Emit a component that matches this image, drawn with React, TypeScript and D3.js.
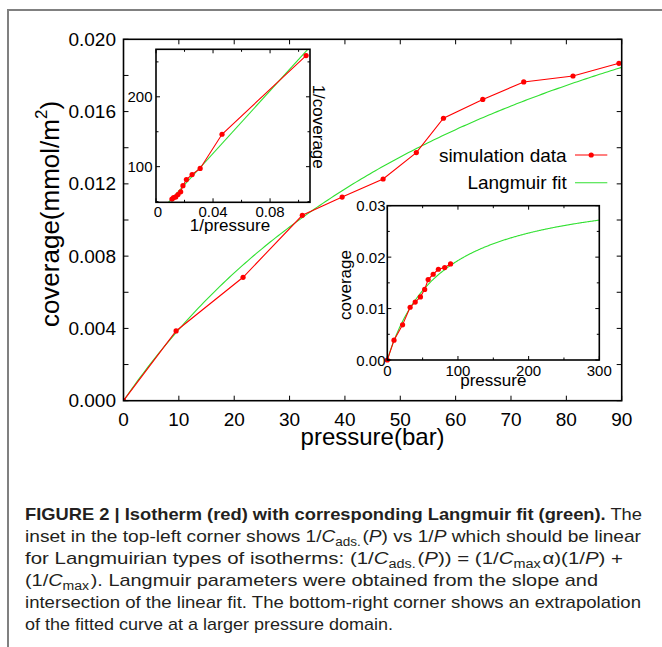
import React, { useEffect } from 'react';
import * as d3 from 'd3';

// simulation isotherm
const pressure = [0, 9.5, 21.6, 32.3, 39.5, 46.9, 52.9, 57.8, 64.9, 72.3, 81.2, 89.5];
const coverage = [0, 0.00386, 0.00683, 0.01026, 0.01127, 0.01227, 0.01373, 0.01563, 0.01667, 0.01764, 0.01797, 0.01867];

// Langmuir fit parameters (from slope / intercept of the 1/C vs 1/P line)
const langmuirCmax = 0.03413;
const langmuirAlpha = 0.01307;

const mainXTicks = [0, 10, 20, 30, 40, 50, 60, 70, 80, 90];
const mainYTicks = [0, 0.002, 0.004, 0.006, 0.008, 0.01, 0.012, 0.014, 0.016, 0.018, 0.02];
const mainYLabels = ['0.000', '0.004', '0.008', '0.012', '0.016', '0.020'];

const invXTicks = [0, 0.02, 0.04, 0.06, 0.08, 0.1];
const invXLabels = ['0', '0.04', '0.08'];
const invYTicks = [50, 100, 150, 200, 250];
const invYLabels = ['100', '200'];

const extXTicks = [0, 50, 100, 150, 200, 250, 300];
const extXLabels = ['0', '100', '200', '300'];
const extYTicks = [0, 0.005, 0.01, 0.015, 0.02, 0.025, 0.03];
const extYLabels = ['0.00', '0.01', '0.02', '0.03'];

const RED = '#ff0000';
const GREEN = '#30e030';
const FONT = '"Liberation Sans", Arial, Helvetica, sans-serif';

const langmuir = (p: number) => (langmuirCmax * langmuirAlpha * p) / (1 + langmuirAlpha * p);

type Box = { x: d3.ScaleLinear<number, number>; y: d3.ScaleLinear<number, number> };

function Frame({ x, y, xt, yt, major, minor, isMajorX, isMajorY }: Box & {
  xt: number[]; yt: number[]; major: number; minor: number;
  isMajorX: (v: number) => boolean; isMajorY: (v: number) => boolean;
}) {
  const [x0, x1] = x.range();
  const [y0, y1] = y.range();
  return (
    <g stroke="#000" strokeWidth={1}>
      {xt.map((v, i) => {
        const len = isMajorX(v) ? major : minor;
        return (
          <g key={'x' + i}>
            <line x1={x(v)} x2={x(v)} y1={y0} y2={y0 - len} />
            <line x1={x(v)} x2={x(v)} y1={y1} y2={y1 + len} />
          </g>
        );
      })}
      {yt.map((v, i) => {
        const len = isMajorY(v) ? major : minor;
        return (
          <g key={'y' + i}>
            <line x1={x0} x2={x0 + len} y1={y(v)} y2={y(v)} />
            <line x1={x1} x2={x1 - len} y1={y(v)} y2={y(v)} />
          </g>
        );
      })}
      <rect x={x0} y={y1} width={x1 - x0} height={y0 - y1} fill="none" strokeWidth={1.6} />
    </g>
  );
}

const near = (a: number, list: number[]) => list.some((b) => Math.abs(a - b) < 1e-9);

export default function App() {
  useEffect(() => {
    document.body.style.margin = '0';
  }, []);

  // main plot
  const x = d3.scaleLinear().domain([0, 90]).range([123.5, 621.7]);
  const y = d3.scaleLinear().domain([0, 0.02]).range([400.7, 39.3]);
  const pts = pressure.map((p, i) => [p, coverage[i]] as [number, number]);
  const line = d3.line<[number, number]>().x((d) => x(d[0])).y((d) => y(d[1]));
  const fitMain = d3.range(0, 90.01, 0.5).map((p) => [p, langmuir(p)] as [number, number]);

  // top-left inset: 1/C vs 1/P
  const ix = d3.scaleLinear().domain([0, 0.108]).range([156, 310]);
  const iy = d3.scaleLinear().domain([49, 268]).range([202.3, 49.3]);
  const invPts = pts.filter((d) => d[0] > 0).map((d) => [1 / d[0], 1 / d[1]] as [number, number]);
  const iline = d3.line<[number, number]>().x((d) => ix(d[0])).y((d) => iy(d[1]));
  const invFit = [0, 0.12].map((v) => [v, 1 / langmuirCmax + v / (langmuirCmax * langmuirAlpha)] as [number, number]);

  // bottom-right inset: extrapolation
  const ex = d3.scaleLinear().domain([0, 300]).range([387.3, 599.3]);
  const ey = d3.scaleLinear().domain([0, 0.03]).range([360, 205.7]);
  const eline = d3.line<[number, number]>().x((d) => ex(d[0])).y((d) => ey(d[1]));
  const fitExt = d3.range(0, 300.01, 1).map((p) => [p, langmuir(p)] as [number, number]);

  const sub = (t: string) => (
    <>
      <tspan fontSize={12} dy={4}>{t}</tspan>
      <tspan dy={-4}>{'\u200a'}</tspan>
    </>
  );
  const it = (t: string) => <tspan fontStyle="italic">{t}</tspan>;

  return (
    <svg width={662} height={647} style={{ position: 'absolute', left: 0, top: 0, background: '#fff' }} fontFamily={FONT}>
      <defs>
        <clipPath id="cm"><rect x={123.5} y={39.3} width={498.2} height={361.4} /></clipPath>
        <clipPath id="ci"><rect x={156} y={49.3} width={154} height={153} /></clipPath>
        <clipPath id="ce"><rect x={387.3} y={205.7} width={212} height={154.3} /></clipPath>
      </defs>
      <path d="M8,647V10H662" fill="none" stroke="#808080" strokeWidth={2} />

      {/* main plot */}
      <g clipPath="url(#cm)">
        <path d={line(fitMain) || ''} fill="none" stroke={GREEN} strokeWidth={1.1} />
        <path d={line(pts) || ''} fill="none" stroke={RED} strokeWidth={1.1} />
        {pts.map((d, i) => <circle key={i} cx={x(d[0])} cy={y(d[1])} r={2.6} fill={RED} />)}
      </g>
      <Frame x={x} y={y} xt={mainXTicks} yt={mainYTicks} major={5} minor={5}
        isMajorX={() => true} isMajorY={() => true} />
      <g fontSize={19} fill="#000">
        {mainYTicks.filter((v, i) => i % 2 === 0).map((v, i) => (
          <text key={i} x={116} y={y(v)} textAnchor="end" dominantBaseline="central">{mainYLabels[i]}</text>
        ))}
        {mainXTicks.map((v) => (
          <text key={v} x={x(v)} y={419} textAnchor="middle" dominantBaseline="central">{v}</text>
        ))}
      </g>
      <text x={372.6} y={445} fontSize={24} textAnchor="middle">pressure(bar)</text>
      <text transform="translate(50,214) rotate(-90)" fontSize={26} textAnchor="middle" dominantBaseline="central">
        coverage(mmol/m<tspan fontSize={17} dy={-9}>2</tspan><tspan dy={9}>)</tspan>
      </text>

      {/* legend */}
      <g fontSize={19}>
        <text x={566.7} y={155} textAnchor="end" dominantBaseline="central">simulation data</text>
        <line x1={575} x2={607.3} y1={155} y2={155} stroke={RED} strokeWidth={1.1} />
        <circle cx={591.2} cy={155} r={2.6} fill={RED} />
        <text x={566.7} y={182.7} textAnchor="end" dominantBaseline="central">Langmuir fit</text>
        <line x1={575} x2={607.3} y1={182.7} y2={182.7} stroke={GREEN} strokeWidth={1.1} />
      </g>

      {/* inset: 1/coverage vs 1/pressure */}
      <rect x={156} y={49.3} width={154} height={153} fill="#fff" />
      <g clipPath="url(#ci)">
        <path d={iline(invFit) || ''} fill="none" stroke={GREEN} strokeWidth={1.1} />
        <path d={iline(invPts) || ''} fill="none" stroke={RED} strokeWidth={1.1} />
        {invPts.map((d, i) => <circle key={i} cx={ix(d[0])} cy={iy(d[1])} r={2.6} fill={RED} />)}
      </g>
      <Frame x={ix} y={iy} xt={invXTicks} yt={invYTicks} major={4} minor={2.5}
        isMajorX={(v) => near(v, [0, 0.04, 0.08])} isMajorY={(v) => near(v, [100, 200])} />
      <g fontSize={15}>
        {[100, 200].map((v, i) => (
          <text key={v} x={152.5} y={iy(v)} textAnchor="end" dominantBaseline="central">{invYLabels[i]}</text>
        ))}
        {[0, 0.04, 0.08].map((v, i) => (
          <text key={v} x={ix(v) + (i === 0 ? 2 : 0)} y={211.7} textAnchor="middle" dominantBaseline="central">{invXLabels[i]}</text>
        ))}
      </g>
      <text x={230} y={225} fontSize={17} textAnchor="middle" dominantBaseline="central">1/pressure</text>
      <text transform="translate(318.3,126.7) rotate(90)" fontSize={17} textAnchor="middle" dominantBaseline="central">1/coverage</text>

      {/* inset: extrapolated fit */}
      <rect x={387.3} y={205.7} width={212} height={154.3} fill="#fff" />
      <g clipPath="url(#ce)">
        <path d={eline(fitExt) || ''} fill="none" stroke={GREEN} strokeWidth={1.1} />
        <path d={eline(pts) || ''} fill="none" stroke={RED} strokeWidth={1.1} />
      </g>
      {pts.map((d, i) => <circle key={i} cx={ex(d[0])} cy={ey(d[1])} r={2.6} fill={RED} />)}
      <Frame x={ex} y={ey} xt={extXTicks} yt={extYTicks} major={4} minor={2.5}
        isMajorX={(v) => v % 100 === 0} isMajorY={(v) => near(v, [0, 0.01, 0.02, 0.03])} />
      <g fontSize={15}>
        {[0, 0.01, 0.02, 0.03].map((v, i) => (
          <text key={i} x={385.5} y={ey(v)} textAnchor="end" dominantBaseline="central">{extYLabels[i]}</text>
        ))}
        {[0, 100, 200, 300].map((v, i) => (
          <text key={v} x={ex(v)} y={370} textAnchor="middle" dominantBaseline="central">{extXLabels[i]}</text>
        ))}
      </g>
      <text x={493.3} y={380} fontSize={17} textAnchor="middle" dominantBaseline="central">pressure</text>
      <text transform="translate(345,285) rotate(-90)" fontSize={17} textAnchor="middle" dominantBaseline="central">coverage</text>

      {/* caption */}
      <g fontSize={17} fill="#231f20">
        <text x={25} y={520} textLength={617} lengthAdjust="spacingAndGlyphs">
          <tspan fontWeight="bold">FIGURE 2 | Isotherm (red) with corresponding Langmuir fit (green).</tspan> The
        </text>
        <text x={25} y={542} textLength={616} lengthAdjust="spacingAndGlyphs">
          inset in the top-left corner shows 1/{it('C')}{sub('ads.')}({it('P')}) vs 1/{it('P')} which should be linear
        </text>
        <text x={25} y={564} textLength={598} lengthAdjust="spacingAndGlyphs">
          for Langmuirian types of isotherms: (1/{it('C')}{sub('ads.')}({it('P')})) = (1/{it('C')}{sub('max')}α)(1/{it('P')}) +
        </text>
        <text x={25} y={586} textLength={573} lengthAdjust="spacingAndGlyphs">
          (1/{it('C')}{sub('max')}). Langmuir parameters were obtained from the slope and
        </text>
        <text x={25} y={608} textLength={616} lengthAdjust="spacingAndGlyphs">
          intersection of the linear fit. The bottom-right corner shows an extrapolation
        </text>
        <text x={25} y={630} textLength={368} lengthAdjust="spacingAndGlyphs">
          of the fitted curve at a larger pressure domain.
        </text>
      </g>
    </svg>
  );
}
